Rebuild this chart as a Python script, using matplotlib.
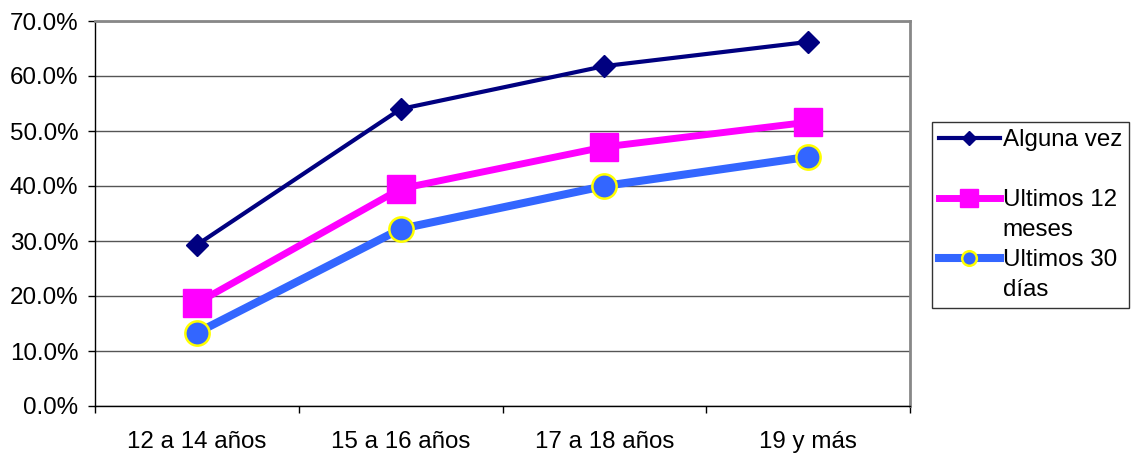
import matplotlib.pyplot as plt
import matplotlib.ticker as mtick
from matplotlib.lines import Line2D

plt.rcParams['font.family'] = ['Liberation Sans', 'DejaVu Sans']

categorias = ["12 a 14 años", "15 a 16 años", "17 a 18 años", "19 y más"]
alguna_vez = [29.3, 54.0, 61.8, 66.2]
ultimos_12 = [18.7, 39.5, 47.1, 51.6]
ultimos_30 = [13.3, 32.2, 40.0, 45.3]

navy = '#000080'
rosa = '#FF00FF'
azul = '#3366FF'
fs = 17.4

fig = plt.figure(figsize=(11.38, 4.55), dpi=100)
ax = fig.add_axes([95/1138, 49/455, 815/1138, 385/455])

x = range(len(categorias))
ax.plot(x, alguna_vez, color=navy, lw=3, marker='D', ms=11,
        mfc=navy, mec=navy, zorder=5)
ax.plot(x, ultimos_12, color=rosa, lw=5, marker='s', ms=19.5,
        mfc=rosa, mec=rosa, zorder=4)
ax.plot(x, ultimos_30, color=azul, lw=5.8, marker='o', ms=17.5,
        mfc=azul, mec='#FFFF00', mew=1.8, zorder=3)

ax.set_xlim(-0.5, 3.5)
ax.set_ylim(0, 70)
ax.yaxis.set_major_locator(mtick.MultipleLocator(10))
ax.yaxis.set_major_formatter(mtick.FormatStrFormatter('%.1f%%'))
ax.set_xticks(x)
ax.set_xticklabels(categorias)
ax.set_xticks([-0.5, 0.5, 1.5, 2.5, 3.5], minor=True)
ax.tick_params(axis='x', which='major', length=0, pad=18, labelsize=fs)
ax.tick_params(axis='x', which='minor', length=5, width=1, direction='out')
ax.tick_params(axis='y', length=5, width=1, direction='out', labelsize=fs, pad=7)

ax.grid(axis='y', color='#555555', lw=1)
ax.set_axisbelow(True)
for s in ['top', 'right']:
    ax.spines[s].set_color('#888888')
    ax.spines[s].set_linewidth(2)
for s in ['left', 'bottom']:
    ax.spines[s].set_color('black')
    ax.spines[s].set_linewidth(1)

# legend: one row per text line, the series handle on the first line
vacio = Line2D([], [], color='none')
h1 = Line2D([], [], color=navy, lw=3, marker='D', ms=7.5, mfc=navy, mec=navy)
h2 = Line2D([], [], color=rosa, lw=5, marker='s', ms=13, mfc=rosa, mec=rosa)
h3 = Line2D([], [], color=azul, lw=5.8, marker='o', ms=10.5, mfc=azul,
            mec='#FFFF00', mew=1.8)
handles = [h1, vacio, h2, vacio, h3, vacio]
labels = ['Alguna vez', ' ', 'Ultimos 12', 'meses', 'Ultimos 30', 'días']

leg = fig.legend(handles, labels, loc='upper left',
                 bbox_to_anchor=(932/1138, 1 - 122/455),
                 fontsize=fs, frameon=True, fancybox=False, edgecolor='black',
                 handlelength=2.5, handletextpad=0.12, labelspacing=0.33,
                 borderpad=0.3, borderaxespad=0)
leg.get_frame().set_linewidth(1)

fig.savefig('out.png', dpi=100)
